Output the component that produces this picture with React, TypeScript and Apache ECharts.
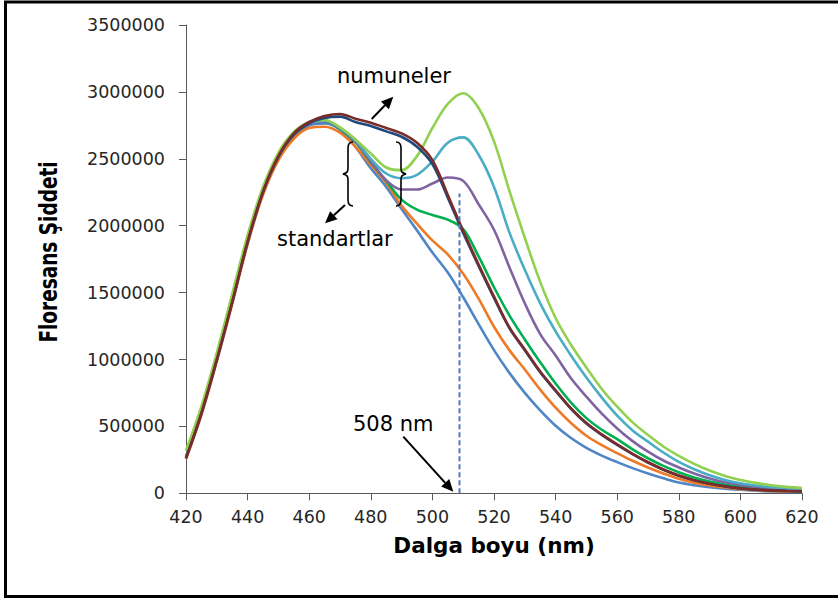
import React, { useEffect, useRef } from "react";
import * as echarts from "echarts";

// Wavelength (nm) sampling positions
const wavelengths = [
  420, 425, 430, 435, 440, 445, 450, 455, 460, 465, 470, 475, 480, 485, 490,
  495, 500, 505, 510, 515, 520, 525, 530, 535, 540, 545, 550, 555, 560, 565,
  570, 575, 580, 585, 590, 595, 600, 605, 610, 615, 620,
];

// Fluorescence intensities
const blueSeries = [
  265000, 600000, 1000000, 1430000, 1875000, 2250000, 2510000, 2670000, 2750000, 2765000,
  2720000, 2590000, 2430000, 2290000, 2125000, 1965000, 1800000, 1650000, 1465000, 1265000,
  1070000, 900000, 750000, 620000, 505000, 413000, 340000, 282000, 233000, 188000,
  148000, 112000, 80000, 60000, 45000, 34000, 26000, 19000, 14000, 11000, 10000,
];
const orangeSeries = [
  255000, 585000, 985000, 1415000, 1860000, 2230000, 2490000, 2650000, 2730000, 2740000,
  2695000, 2590000, 2455000, 2320000, 2150000, 2015000, 1890000, 1785000, 1640000, 1455000,
  1245000, 1070000, 925000, 775000, 640000, 525000, 430000, 360000, 300000, 243000,
  193000, 148000, 108000, 79000, 58000, 43000, 31000, 23000, 17000, 14000, 12000,
];
const greenSeries = [
  270000, 605000, 1005000, 1440000, 1885000, 2260000, 2520000, 2680000, 2760000, 2780000,
  2720000, 2625000, 2475000, 2335000, 2195000, 2120000, 2080000, 2045000, 1975000, 1770000,
  1540000, 1330000, 1150000, 980000, 820000, 678000, 562000, 475000, 405000, 328000,
  262000, 205000, 158000, 118000, 88000, 65000, 48000, 36000, 28000, 22000, 18000,
];
const purpleSeries = [
  270000, 605000, 1005000, 1440000, 1885000, 2260000, 2520000, 2680000, 2760000, 2780000,
  2725000, 2630000, 2480000, 2340000, 2270000, 2270000, 2315000, 2360000, 2335000, 2160000,
  1970000, 1690000, 1420000, 1190000, 1030000, 860000, 722000, 595000, 485000, 390000,
  311000, 245000, 193000, 148000, 110000, 82000, 62000, 47000, 37000, 30000, 25000,
];
const cyanSeries = [
  275000, 610000, 1010000, 1445000, 1890000, 2265000, 2525000, 2685000, 2765000, 2785000,
  2730000, 2640000, 2500000, 2390000, 2355000, 2380000, 2480000, 2620000, 2660000, 2530000,
  2290000, 1950000, 1670000, 1420000, 1210000, 1030000, 865000, 715000, 580000, 470000,
  386000, 305000, 235000, 180000, 135000, 100000, 75000, 58000, 45000, 36000, 30000,
];
const lightGreenSeries = [
  320000, 650000, 1050000, 1490000, 1930000, 2290000, 2545000, 2700000, 2775000, 2790000,
  2735000, 2645000, 2540000, 2435000, 2415000, 2520000, 2730000, 2910000, 2990000, 2880000,
  2630000, 2260000, 1910000, 1580000, 1310000, 1110000, 940000, 780000, 647000, 530000,
  436000, 350000, 280000, 220000, 170000, 130000, 100000, 78000, 60000, 48000, 40000,
];
const navySeries = [
  262000, 595000, 995000, 1425000, 1875000, 2250000, 2515000, 2680000, 2765000, 2805000,
  2815000, 2775000, 2745000, 2705000, 2665000, 2590000, 2460000, 2210000, 1945000, 1700000,
  1460000, 1235000, 1070000, 905000, 765000, 632000, 522000, 437000, 362000, 293000,
  230000, 176000, 131000, 97000, 71000, 52000, 37000, 27000, 21000, 17000, 14000,
];
const darkRedSeries = [
  265000, 600000, 1000000, 1430000, 1880000, 2255000, 2520000, 2690000, 2775000, 2820000,
  2835000, 2800000, 2770000, 2730000, 2690000, 2620000, 2490000, 2230000, 1960000, 1710000,
  1470000, 1240000, 1075000, 910000, 770000, 635000, 525000, 440000, 365000, 295000,
  232000, 178000, 133000, 98000, 72000, 53000, 38000, 28000, 22000, 18000, 15000,
];

const seriesNames = [
  "Standart 1", "Standart 2", "Standart 3", "Numune 1",
  "Numune 2", "Numune 3", "Numune 4", "Numune 5",
];
const seriesValues = [
  blueSeries, orangeSeries, greenSeries, purpleSeries,
  cyanSeries, lightGreenSeries, navySeries, darkRedSeries,
];
const seriesColors = [
  "#4F86C6", "#EE7A28", "#00B050", "#8064A2",
  "#4BACC6", "#92D050", "#1F497D", "#7B2C2A",
];

// Marker line at 508 nm
const markerWavelength = 508.8;
const markerTop = 2240000;

const xTicks = { min: 420, max: 620, interval: 20 };
const yTicks = { min: 0, max: 3500000, interval: 500000 };

function arrow(x1: number, y1: number, x2: number, y2: number, head = 12, half = 5.5) {
  const dx = x2 - x1, dy = y2 - y1;
  const len = Math.sqrt(dx * dx + dy * dy);
  const ux = dx / len, uy = dy / len;
  const bx = x2 - ux * head, by = y2 - uy * head;
  const px = -uy * half, py = ux * half;
  return [
    { type: "line", shape: { x1, y1, x2: bx, y2: by }, style: { stroke: "#000", lineWidth: 2 }, z: 100 },
    {
      type: "polygon",
      shape: { points: [[x2, y2], [bx + px, by + py], [bx - px, by - py]] },
      style: { fill: "#000" },
      z: 100,
    },
  ];
}

const leftBrace = "M10,0 C6,0 5,2 5,6 L5,26 C5,30 4,31 0,32 C4,33 5,34 5,38 L5,58 C5,62 6,64 10,64";
const rightBrace = "M0,0 C4,0 5,2 5,6 L5,26 C5,30 6,31 10,32 C6,33 5,34 5,38 L5,58 C5,62 4,64 0,64";

let registered = false;
function registerShapes() {
  if (registered) return;
  echarts.graphic.registerShape("braceL", echarts.graphic.extendPath(leftBrace, {}) as any);
  echarts.graphic.registerShape("braceR", echarts.graphic.extendPath(rightBrace, {}) as any);
  registered = true;
}

export default function App() {
  const ref = useRef<HTMLDivElement>(null);

  useEffect(() => {
    document.body.style.margin = "0";
    registerShapes();
    const chart = echarts.init(ref.current!, null, { renderer: "svg" });

    const lineSeries = seriesValues.map((vals, i) => ({
      name: seriesNames[i],
      type: "line",
      data: wavelengths.map((w, j) => [w, vals[j]]),
      smooth: 0.35,
      showSymbol: false,
      symbol: "none",
      lineStyle: { color: seriesColors[i], width: 2.6 },
      itemStyle: { color: seriesColors[i] },
      z: 2 + i,
    }));

    const labelFont = { fontFamily: "DejaVu Sans", fontSize: 17.5, color: "#262626" };

    chart.setOption({
      animation: false,
      backgroundColor: "#ffffff",
      grid: { left: 186, top: 25, width: 616, height: 468.3, containLabel: false },
      xAxis: {
        type: "value",
        min: xTicks.min,
        max: xTicks.max,
        interval: xTicks.interval,
        name: "Dalga boyu (nm)",
        nameLocation: "middle",
        nameGap: 41,
        nameTextStyle: { fontFamily: "DejaVu Sans", fontWeight: "bold", fontSize: 21.5, color: "#000" },
        axisLine: { show: true, lineStyle: { color: "#595959", width: 1 } },
        axisTick: { show: true, length: 7, lineStyle: { color: "#595959" } },
        axisLabel: { ...labelFont, margin: 15 },
        splitLine: { show: false },
      },
      yAxis: {
        type: "value",
        min: yTicks.min,
        max: yTicks.max,
        interval: yTicks.interval,
        axisLine: { show: true, lineStyle: { color: "#595959", width: 1 } },
        axisTick: { show: true, length: 7, lineStyle: { color: "#595959" } },
        axisLabel: { ...labelFont, margin: 21, formatter: (v: number) => String(v) },
        splitLine: { show: false },
      },
      series: [
        ...lineSeries,
        {
          name: "508 nm",
          type: "line",
          data: [[markerWavelength, 0], [markerWavelength, markerTop]],
          showSymbol: false,
          symbol: "none",
          lineStyle: { color: "#4A7EBB", width: 2, type: [5, 3] },
          z: 20,
        },
      ],
      graphic: [
        {
          type: "rect",
          shape: { x: 5.5, y: 2, width: 900, height: 594.5 },
          style: { fill: "none", stroke: "#000", lineWidth: 3 },
          z: 0,
          silent: true,
        },
        {
          type: "text",
          x: 49,
          y: 252,
          rotation: Math.PI / 2,
          scaleY: 1.3,
          style: {
            text: "Floresans Şiddeti",
            fontFamily: "DejaVu Sans",
            fontWeight: "bold",
            fontSize: 18.5,
            fill: "#000",
            align: "center",
            verticalAlign: "middle",
          },
        },
        {
          type: "text",
          x: 337,
          y: 76,
          style: { text: "numuneler", fontFamily: "DejaVu Sans", fontSize: 21, fill: "#000", verticalAlign: "middle" },
          z: 100,
        },
        {
          type: "text",
          x: 277,
          y: 239,
          style: { text: "standartlar", fontFamily: "DejaVu Sans", fontSize: 21, fill: "#000", verticalAlign: "middle" },
          z: 100,
        },
        {
          type: "text",
          x: 353,
          y: 424,
          style: { text: "508 nm", fontFamily: "DejaVu Sans", fontSize: 21, fill: "#000", verticalAlign: "middle" },
          z: 100,
        },
        ...arrow(371.7, 119, 393.3, 96.7),
        ...arrow(345, 205, 325, 223.3),
        ...arrow(403.3, 436.7, 453.3, 491.7),
        {
          type: "braceL",
          x: 343,
          y: 142,
          scaleX: 1,
          scaleY: 1,
          style: { fill: "none", stroke: "#000", lineWidth: 1.6 },
          z: 100,
        },
        {
          type: "braceR",
          x: 396,
          y: 142,
          scaleX: 1,
          scaleY: 1,
          style: { fill: "none", stroke: "#000", lineWidth: 1.6 },
          z: 100,
        },
      ],
    });

    return () => chart.dispose();
  }, []);

  return <div ref={ref} style={{ width: 838, height: 601 }} />;
}
